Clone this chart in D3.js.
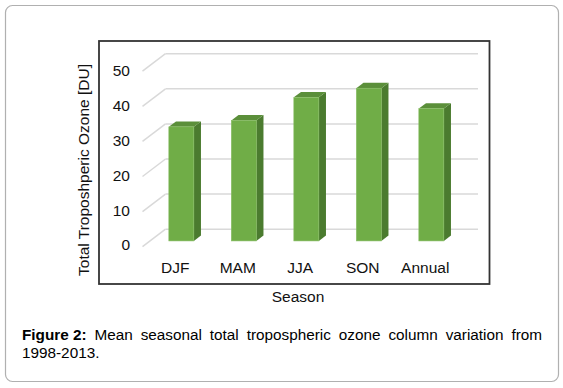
<!DOCTYPE html>
<meta charset="utf-8">
<style>
body {
  margin: 0;
  background: #fff;
}
text {
  font-family: "Liberation Sans", Arial, Helvetica, sans-serif;
}
.tick-label {
  font-size: 15.5px;
  fill: #111;
}
.caption {
  font-size: 15.3px;
  fill: #000;
}
</style>
<svg width="563" height="388"></svg>
<script src="https://cdn.jsdelivr.net/npm/d3@7"></script>
<script>

const seasons = ["DJF", "MAM", "JJA", "SON", "Annual"];
const ozone = [32.5, 34.3, 40.9, 43.5, 37.7];
const yTicks = [0, 10, 20, 30, 40, 50];
const yTitle = "Total Troposhperic Ozone [DU]";
const xTitle = "Season";
const captionBold = "Figure 2:";
const captionText = "Mean seasonal total tropospheric ozone column variation from 1998-2013.";

// depth of the 3d box (front floor -> back wall)
const depthX = 23, depthY = -17.5;
const barFront = 0.33, barBack = 0.64;

const frontColour = "#70ad47",
      sideColour = "#4b7b2f",
      topColour = "#5b8f3a",
      gridColour = "#d9d9d9";

const svg = d3.select("svg");

// outer frame
svg.append("rect")
  .attr("x", 5.5).attr("y", 5.5)
  .attr("width", 553).attr("height", 376)
  .attr("rx", 7)
  .attr("fill", "#fff")
  .attr("stroke", "#b0b0b0")
  .attr("stroke-width", 1.2);

// chart area border
svg.append("rect")
  .attr("x", 99).attr("y", 41)
  .attr("width", 390.5).attr("height", 243)
  .attr("fill", "#fff")
  .attr("stroke", "#333")
  .attr("stroke-width", 1.8);

// scales on the front plane of the floor
const x = d3.scaleBand()
  .domain(seasons)
  .range([142.5, 455])
  .paddingInner(0.6)
  .paddingOuter(0.3);

const y = d3.scaleLinear()
  .domain([0, 50])
  .range([246.7, 71.2]);

function px(xv, d) { return xv + depthX * d; }
function py(yv, d) { return yv + depthY * d; }

const xLeft = x.range()[0], xRight = x.range()[1];

// gridlines: diagonal on the side wall + horizontal on back wall
const grid = svg.append("g");
grid.selectAll(".diag")
  .data(yTicks)
  .enter().append("line")
  .attr("x1", xLeft).attr("y1", d => y(d))
  .attr("x2", px(xLeft, 1)).attr("y2", d => py(y(d), 1))
  .attr("stroke", gridColour)
  .attr("stroke-width", 1.5);
grid.selectAll(".back")
  .data(yTicks)
  .enter().append("line")
  .attr("x1", px(xLeft, 1)).attr("y1", d => py(y(d), 1))
  .attr("x2", px(xRight, 1)).attr("y2", d => py(y(d), 1))
  .attr("stroke", gridColour)
  .attr("stroke-width", 1.5);

// tick labels
svg.append("g").selectAll("text")
  .data(yTicks)
  .enter().append("text")
  .attr("class", "tick-label")
  .attr("x", 130)
  .attr("y", d => y(d) - 1.5 * (1 - d / 50) - 0.3)
  .attr("dy", "0.35em")
  .attr("text-anchor", "end")
  .text(d => d);

// bars
const bw = x.bandwidth();
const bdx = depthX * (barBack - barFront), bdy = depthY * (barBack - barFront);
const bars = svg.append("g").selectAll("g")
  .data(seasons.map((s, i) => ({season: s, value: ozone[i]})))
  .enter().append("g");

function barPoints(d) {
  const x0 = px(x(d.season), barFront), x1 = x0 + bw;
  const yb = py(y(0), barFront), yt = py(y(d.value), barFront);
  return {x0, x1, yb, yt};
}

bars.append("path")
  .attr("fill", sideColour)
  .attr("d", d => {
    const p = barPoints(d);
    return "M" + p.x1 + "," + p.yb + "L" + (p.x1 + bdx) + "," + (p.yb + bdy) +
      "L" + (p.x1 + bdx) + "," + (p.yt + bdy) + "L" + p.x1 + "," + p.yt + "Z";
  });
bars.append("path")
  .attr("fill", topColour)
  .attr("d", d => {
    const p = barPoints(d);
    return "M" + p.x0 + "," + p.yt + "L" + p.x1 + "," + p.yt +
      "L" + (p.x1 + bdx) + "," + (p.yt + bdy) + "L" + (p.x0 + bdx) + "," + (p.yt + bdy) + "Z";
  });
bars.append("rect")
  .attr("fill", frontColour)
  .attr("stroke", "#86bd62")
  .attr("stroke-width", 0.6)
  .attr("x", d => barPoints(d).x0)
  .attr("y", d => barPoints(d).yt)
  .attr("width", bw)
  .attr("height", d => barPoints(d).yb - barPoints(d).yt);

// category labels
svg.append("g").selectAll("text")
  .data(seasons)
  .enter().append("text")
  .attr("class", "tick-label")
  .attr("x", d => x(d) + bw / 2 + 1.5)
  .attr("y", 273)
  .attr("text-anchor", "middle")
  .text(d => d);

// axis titles
svg.append("text")
  .attr("class", "tick-label")
  .attr("x", 298)
  .attr("y", 301.5)
  .attr("text-anchor", "middle")
  .text(xTitle);

svg.append("text")
  .attr("class", "tick-label")
  .attr("transform", "translate(88.5,170) rotate(-90)")
  .attr("text-anchor", "middle")
  .text(yTitle);

// caption, first line justified
const capLeft = 22, capRight = 542;
const capWords = [{t: captionBold, bold: true}].concat(
  captionText.split(" ").map(w => ({t: w, bold: false})));
const cap = svg.append("g").attr("class", "caption");
const measured = capWords.map(w => {
  const t = cap.append("text")
    .attr("class", "caption")
    .style("font-weight", w.bold ? "bold" : "normal")
    .text(w.t);
  w.node = t;
  w.width = t.node().getComputedTextLength();
  return w;
});
const spaceW = 4.25;
let lines = [[]], lineW = 0;
measured.forEach(w => {
  const cur = lines[lines.length - 1];
  const need = cur.length ? lineW + spaceW + w.width : w.width;
  if (cur.length && need > capRight - capLeft) {
    lines.push([w]);
    lineW = w.width;
  } else {
    cur.push(w);
    lineW = need;
  }
});
const baselines = [340, 358];
lines.forEach((line, li) => {
  const total = d3.sum(line, w => w.width);
  const last = li === lines.length - 1;
  const gap = last ? spaceW : (capRight - capLeft - total) / (line.length - 1);
  let cx = capLeft;
  line.forEach(w => {
    w.node.attr("x", cx).attr("y", baselines[li]);
    cx += w.width + gap;
  });
});
</script>
